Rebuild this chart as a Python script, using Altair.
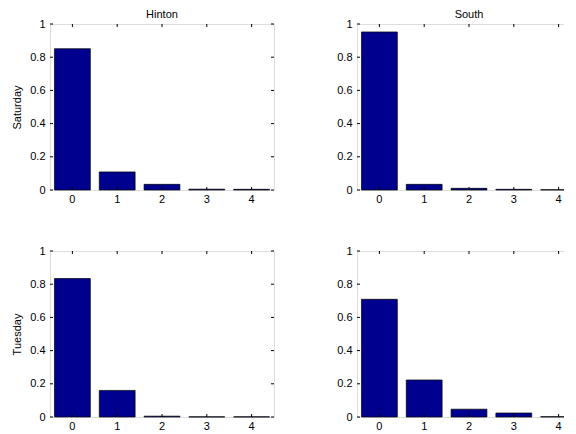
import altair as alt
import pandas as pd

categories = [0, 1, 2, 3, 4]
hinton_saturday = [0.851, 0.109, 0.034, 0.005, 0.004]
south_saturday = [0.952, 0.034, 0.010, 0.004, 0.002]
hinton_tuesday = [0.834, 0.160, 0.005, 0.001, 0.001]
south_tuesday = [0.709, 0.223, 0.047, 0.024, 0.002]
y_ticks = [0, 0.2, 0.4, 0.6, 0.8, 1]

NAVY = "#00008F"
FONT = "Liberation Sans"
FS = 11
W, H = 224, 166
TK = 3


def panel(vals, title=None, ytitle=None):
    df = pd.DataFrame({"k": categories, "p": vals})
    xdf = pd.DataFrame({"k": categories})
    ydf = pd.DataFrame({"p": y_ticks})
    xscale = alt.Scale(paddingInner=0.2, paddingOuter=0.1)
    yscale = alt.Scale(domain=[0, 1], nice=False)
    xaxis = alt.Axis(title=None, labelAngle=0, ticks=False, domain=False,
                     labelPadding=3, grid=False, labelFontSize=FS,
                     labelFont=FONT, labelColor="black")
    yaxis = alt.Axis(title=ytitle, values=y_ticks, ticks=False, domain=False,
                     labelPadding=5, grid=False, format="~g",
                     labelFontSize=FS, labelFont=FONT, labelColor="black",
                     titleFontSize=FS, titleFont=FONT, titleColor="black",
                     titleFontWeight="normal", titlePadding=7)
    X = alt.X("k:O", scale=xscale, axis=xaxis)
    Y = alt.Y("p:Q", scale=yscale, axis=yaxis)
    bars = alt.Chart(df).mark_bar(color=NAVY, stroke="black",
                                  strokeWidth=0.7).encode(x=X, y=Y)
    lt = alt.Chart(ydf).mark_rule(color="black").encode(
        y=Y, x=alt.value(0), x2=alt.value(TK))
    rt = alt.Chart(ydf).mark_rule(color="black").encode(
        y=Y, x=alt.value(W - TK), x2=alt.value(W))
    tt = alt.Chart(xdf).mark_rule(color="black").encode(
        x=X, y=alt.value(0), y2=alt.value(TK))
    bt = alt.Chart(xdf).mark_rule(color="black").encode(
        x=X, y=alt.value(H - TK), y2=alt.value(H))
    props = dict(width=W, height=H)
    if title:
        props["title"] = alt.TitleParams(title, fontSize=FS, fontWeight="normal",
                                         font=FONT, color="black", offset=-2,
                                         frame="group")
    return alt.layer(bars, lt, rt, tt, bt).properties(**props)


row1 = alt.hconcat(panel(hinton_saturday, "Hinton", "Saturday"),
                   panel(south_saturday, "South"), spacing=61)
row2 = alt.hconcat(panel(hinton_tuesday, None, "Tuesday"),
                   panel(south_tuesday), spacing=61)

chart = alt.vconcat(row1, row2, spacing=39).properties(
    padding={"left": 3, "top": 0, "right": -18, "bottom": 0}
).configure_view(stroke="black", strokeWidth=1).configure(background="white")

chart.save("out.html", embed_options={"renderer": "svg", "actions": False})
